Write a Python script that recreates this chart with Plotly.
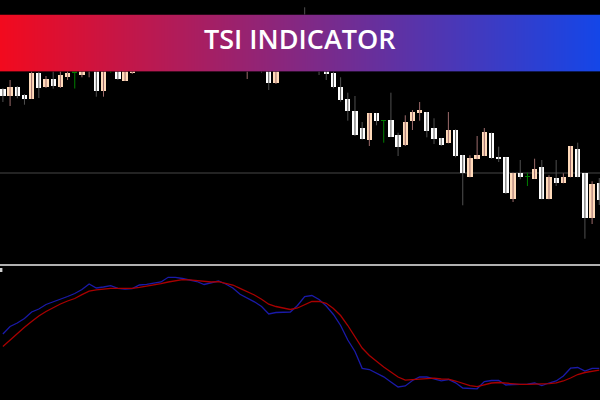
import plotly.graph_objects as go

# ---- candle data (price units) ----
opens = [174.7, 168, 177.3, 169.3, 165.3, 190.7, 176.7, 185.3, 176.7, 186.7,
         192, 189.3, 196, 204, 173.3, 204, 204, 183.3, 190.7, 198,
         210, 202, 218, 226, 236, 226, 234, 224, 216, 224,
         232, 222, 214, 204, 202, 214, 206, 202, 181.3, 202,
         214, 224, 236, 224, 212, 200, 191.3, 177.3, 164.7, 153.3,
         136, 124, 150.7, 143.7, 144, 129.3, 119.3, 143.3, 151.3, 152,
         136, 126, 120.7, 134, 108.7, 86.7, 104.7, 108, 131.3, 106.7,
         106.7, 64.7, 90.7, 87.7, 85.3, 97.3, 64.7, 86, 80.7, 86.7,
         115.3, 90.7, 46, 81]
highs = [176, 184, 178, 170, 196, 192, 188, 193, 194, 194,
         196, 202, 214, 208, 206, 212, 209, 210, 207, 216,
         214, 222, 232, 240, 239, 238, 237, 228, 231, 236,
         235, 226, 218, 216, 218, 218, 209, 206, 208, 220,
         232, 242, 256.7, 228, 216, 204, 196, 186.7, 171.3, 168,
         142, 150.7, 151, 144, 171.3, 131.3, 148.7, 154, 162, 152,
         145.7, 126, 152, 134.7, 109, 108.7, 128, 136, 131.3, 117.3,
         106.7, 91.3, 104, 91.3, 105.3, 104, 88.7, 104, 90.7, 118,
         121.3, 90.7, 82.7, 86]
lows = [162, 158, 165.7, 159.3, 165, 166, 176, 175.3, 176, 184,
        175.5, 186.7, 186.7, 167.3, 167.3, 191.3, 184, 183, 190, 196,
        198, 200, 214, 222, 224, 220, 219, 212, 212, 220,
        218, 209, 202, 200, 185, 198, 191.3, 174, 180, 200,
        210, 220, 218, 206, 189, 184, 175.7, 162.3, 143.3, 128,
        124.5, 118, 138.7, 121.3, 127, 108, 118, 134, 143.3, 126.7,
        120, 118, 120.7, 106.7, 58.7, 86.7, 104.7, 108, 105.3, 102,
        70, 62, 84.7, 78, 85.3, 64.7, 64.7, 78, 80.7, 86.7,
        86.7, 25.3, 40, 59]
closes = [168, 177.3, 168, 165.3, 190.7, 176, 185.3, 178, 188.7, 190.7,
          192, 198, 209, 173.3, 202, 204, 184.7, 206, 202, 212,
          202, 219, 228, 236, 228, 234, 224, 216, 226, 232,
          222, 214, 206, 212, 214, 204, 194, 181.3, 204, 216,
          226, 236, 224, 212, 200, 190, 176.7, 164, 152.7, 128.7,
          125.3, 150.7, 143.3, 143.7, 127.3, 117.3, 142, 152, 154, 133.3,
          125.3, 119.3, 134, 108, 90.7, 106, 108.7, 132, 106, 104.7,
          71.3, 91.3, 86.7, 87.7, 95.3, 64.7, 86.7, 80.7, 87.3, 118,
          86.7, 46, 80, 64]

# ---- TSI indicator data ----
tsi_line = [-1, 6.5, 10, 14.5, 21, 24, 28.5, 31, 33.5, 36.5,
            39.5, 43.5, 49, 45, 46, 47.3, 44.7, 44, 44.3, 48,
            48.7, 49.7, 51, 55.7, 55.7, 54.5, 53, 51.5, 48.5, 50.5,
            52, 49, 45, 38.7, 35, 31.2, 26.5, 19, 20.5, 20.7,
            21, 27.5, 36.5, 37.5, 33.5, 27, 18.5, 7.5, -7, -18.5,
            -35.3, -36.5, -40.3, -43.8, -49, -54, -53, -47.5, -44, -44,
            -45.8, -47.8, -46.5, -49.8, -55, -55.5, -55.8, -48.5, -47.5, -47.5,
            -52, -51.5, -51.3, -51.2, -50, -52.5, -50, -48, -43, -35.2,
            -34.5, -38, -35.3, -35.3]
signal_line = [-13.6, -7, -0.5, 5.8, 11.5, 17, 21.5, 25.3, 29, 32,
               34.5, 38.3, 41.9, 43.1, 44, 44.7, 44.7, 44.7, 44.7, 45.7,
               46.8, 47.8, 49.3, 51, 52.5, 53.3, 53.1, 52.6, 51.8, 51,
               51.3, 50, 48, 44.7, 41.5, 38, 33.7, 28.8, 26.5, 24.7,
               23.5, 25, 28.5, 31.5, 31.7, 29.7, 24.5, 17.5, 7.5, -3.5,
               -15, -22.5, -28.5, -34, -39, -44, -47.2, -46.7, -45.7, -45,
               -45.2, -46, -46.2, -48, -50.2, -52.7, -53.6, -51.8, -50, -49.5,
               -50.2, -50.8, -51.3, -51.3, -51.2, -51.1, -50.7, -49.8, -48, -45,
               -41.5, -39.5, -38.3, -37.1]

title_text = "TSI INDICATOR"
level_price = 91

n = len(opens)
idx = list(range(n))
up = [i for i in idx if closes[i] > opens[i]]
dn = [i for i in idx if closes[i] < opens[i]]
dj = [i for i in idx if closes[i] == opens[i]]


def wick_xy(ids):
    xs, ys = [], []
    for i in ids:
        xs += [i, i, None]
        ys += [lows[i], highs[i], None]
    return xs, ys


fig = go.Figure()

WHITE = "#FFFFFF"
PEACH = "#FFDAB9"
WICK_DN = "#505050"
WICK_UP = "#9c6b6b"
GREEN = "#008000"

for ids, col in [(dn, WICK_DN), (up, WICK_UP), (dj, GREEN)]:
    wx, wy = wick_xy(ids)
    fig.add_trace(go.Scatter(x=wx, y=wy, mode="lines",
                             line=dict(color=col, width=1),
                             hoverinfo="skip", xaxis="x", yaxis="y"))

BW = 0.74
fig.add_trace(go.Bar(x=dn, base=[closes[i] for i in dn],
                     y=[opens[i] - closes[i] for i in dn],
                     width=BW, marker=dict(color=WHITE, line=dict(width=0)),
                     xaxis="x", yaxis="y"))
fig.add_trace(go.Bar(x=up, base=[opens[i] for i in up],
                     y=[closes[i] - opens[i] for i in up],
                     width=BW, marker=dict(color=PEACH, line=dict(width=0)),
                     xaxis="x", yaxis="y"))
fig.add_trace(go.Bar(x=dj, base=[closes[i] - 0.6 for i in dj],
                     y=[1.2 for _ in dj],
                     width=BW, marker=dict(color=GREEN, line=dict(width=0)),
                     xaxis="x", yaxis="y"))

# indicator lines
fig.add_trace(go.Scatter(x=idx, y=tsi_line, mode="lines",
                         line=dict(color="#1a1aa8", width=1.3),
                         xaxis="x2", yaxis="y2"))
fig.add_trace(go.Scatter(x=idx, y=signal_line, mode="lines",
                         line=dict(color="#a80000", width=1.3),
                         xaxis="x2", yaxis="y2"))

# gradient banner
fig.add_trace(go.Heatmap(x=[0, 1], y=[0, 1], z=[[0, 1], [0, 1]],
                         colorscale=[[0, "#F20A1E"], [1, "#1446E8"]],
                         zsmooth="best", showscale=False, hoverinfo="skip",
                         xaxis="x3", yaxis="y3"))

xr = [-0.404, 83.1]
ax_off = dict(visible=False, showgrid=False, zeroline=False, fixedrange=True)
fig.update_layout(
    width=600, height=400,
    margin=dict(l=0, r=0, t=0, b=0),
    paper_bgcolor="#000000", plot_bgcolor="#000000",
    showlegend=False, barmode="overlay", bargap=0,
    xaxis=dict(domain=[0, 1], range=xr, anchor="y", **ax_off),
    yaxis=dict(domain=[0.34, 1], range=[0, 264], anchor="x", **ax_off),
    xaxis2=dict(domain=[0, 1], range=xr, anchor="y2", **ax_off),
    yaxis2=dict(domain=[0, 0.3325], range=[-67, 66], anchor="x2", **ax_off),
    xaxis3=dict(domain=[0, 1], range=[0, 1], anchor="y3", **ax_off),
    yaxis3=dict(domain=[0.82075, 0.96375], range=[0, 1], anchor="x3", **ax_off),
    shapes=[
        dict(type="line", xref="paper", yref="y", x0=0, x1=1,
             y0=level_price, y1=level_price, layer="below",
             line=dict(color="#464646", width=1)),
        dict(type="line", xref="paper", yref="paper", x0=0, x1=1,
             y0=0.3375, y1=0.3375, line=dict(color="#b0b0b0", width=2)),
        dict(type="rect", xref="paper", yref="paper", x0=0, x1=0.004,
             y0=0.32, y1=0.33, fillcolor="#d0d0d0", line=dict(width=0)),
    ],
    annotations=[
        dict(text=title_text, xref="paper", yref="paper", x=0.5, y=0.903,
             xanchor="center", yanchor="middle", showarrow=False,
             font=dict(family="Open Sans, Arial, sans-serif", size=27,
                       color="#FFFFFF", weight=600)),
    ],
)

fig.write_html(
    "out.html",
    config={"displayModeBar": False, "staticPlot": True},
    post_script="document.body.style.margin='0';document.body.style.padding='0';"
                "document.body.style.background='#000';"
                "document.documentElement.style.background='#000';",
)
